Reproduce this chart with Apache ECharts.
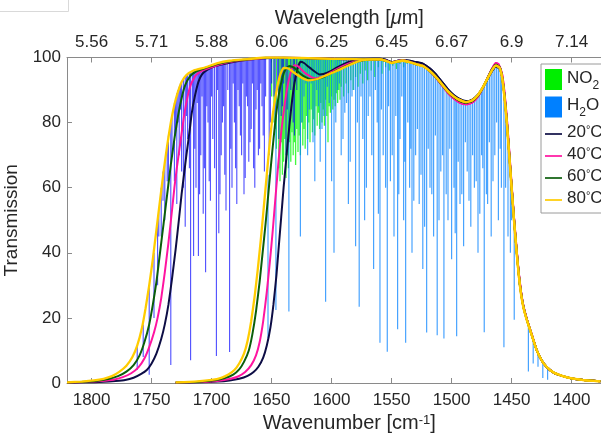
<!DOCTYPE html>
<html><head><meta charset="utf-8">
<script src="https://cdn.jsdelivr.net/npm/echarts/dist/echarts.min.js"></script>
<style>html,body{margin:0;padding:0;background:#fff}#c{width:601px;height:433px}</style>
</head><body><div id="c"></div>
<script>
// ---- tick labels ----
const wnTicks = [1800,1750,1700,1650,1600,1550,1500,1450,1400];
const wlLabels = ['5.56','5.71','5.88','6.06','6.25','6.45','6.67','6.9','7.14'];

// ---- shared high-wavenumber tails per temperature [wavenumber, transmission] ----
const tail20 = [[1560,99.6],[1555,99.3],[1550,98.6],[1545,99],[1541,99.2],[1535,99],[1530,98.6],[1524,98.1],[1518,96.6],[1513,94.8],[1508,92.5],[1503,90.2],[1498,88.4],[1493,87.2],[1488,86.6],[1483,87],[1478,88.6],[1474,90.8],[1470,93.4],[1466,96],[1463,97.2],[1460,96.6],[1458,94.2],[1456,88.5],[1454,80.5],[1452,70.5],[1450,60.5],[1448,50.5],[1446,41.5],[1444,33.5],[1442,27.5],[1440,23.3],[1437,19.2],[1433,14.6],[1429,10],[1425,7],[1421,5],[1415,3.2],[1408,2.2],[1400,1.4],[1390,0.9],[1376,0.5]];
const tail40 = [[1560,99.4],[1555,99.1],[1550,98.5],[1545,98.9],[1541,99.1],[1535,98.7],[1530,98.1],[1524,97.5],[1518,95.8],[1513,93.8],[1508,91.4],[1503,89.1],[1498,87.3],[1493,86.1],[1488,85.6],[1483,86.1],[1478,88],[1474,90.6],[1470,93.8],[1466,96.8],[1463,98.3],[1461,98],[1458,95],[1456,89.5],[1454,81.5],[1452,71.5],[1450,61],[1448,51],[1446,42],[1444,33.8],[1442,27.7],[1440,23.4],[1437,19.3],[1433,14.7],[1429,10.1],[1425,7],[1421,5],[1415,3.2],[1408,2.2],[1400,1.4],[1390,0.9],[1376,0.5]];
const tail60 = [[1560,99.4],[1555,99],[1550,98.4],[1545,98.8],[1541,99],[1535,98.6],[1530,98],[1524,97.4],[1518,95.8],[1513,93.9],[1508,91.6],[1503,89.4],[1498,87.8],[1493,86.6],[1488,86.1],[1483,86.6],[1478,88.3],[1474,90.7],[1470,93.7],[1466,96.5],[1463,97.8],[1460,97],[1458,94.3],[1456,88.5],[1454,80.5],[1452,70.5],[1450,60.3],[1448,50.3],[1446,41.3],[1444,33.2],[1442,27.2],[1440,23.1],[1437,19.1],[1433,14.5],[1429,10],[1425,7],[1421,5],[1415,3.2],[1408,2.2],[1400,1.4],[1390,0.9],[1376,0.5]];
const tail80 = [[1560,99.4],[1555,99],[1550,98.3],[1545,98.8],[1541,99],[1535,98.6],[1530,98],[1524,97.4],[1518,95.8],[1513,94],[1508,91.8],[1503,89.6],[1498,88],[1493,86.9],[1488,86.3],[1483,86.8],[1478,88.5],[1474,90.8],[1470,93.6],[1466,96.3],[1463,97.5],[1460,96.8],[1458,94],[1456,88],[1454,80],[1452,70],[1450,60],[1448,50],[1446,41],[1444,33],[1442,27],[1440,23],[1437,19],[1433,14.5],[1429,10],[1425,7],[1421,5],[1415,3.2],[1408,2.2],[1400,1.4],[1390,0.9],[1376,0.5]];

// ---- left filter rising edges ----
const riseL20 = [[1820.5,0.1],[1805,0.2],[1790,0.35],[1780,0.6],[1772,0.9],[1765,1.6],[1759,2.7],[1754,4],[1750,6],[1746,9],[1742,13.5],[1739,18],[1736,24],[1733,32],[1730,41],[1727,51],[1725,58],[1723,64],[1721,70],[1718.5,77],[1716.5,83],[1714,88],[1711,92.5],[1708,94.8],[1704,96.1],[1698,97.2],[1690,98],[1680,98.8],[1668,99.4],[1655,99.8],[1640,100],[1620,99.8],[1600,99.6],[1580,99.6],[1565,99.6]];
const riseL40 = [[1820.5,0.12],[1805,0.3],[1792,0.6],[1782,1],[1774,1.8],[1767,3],[1761,4.8],[1756,7.5],[1752,11],[1748,15.5],[1745,20],[1742,26],[1739,34],[1736,43],[1733,53],[1731,60],[1729,66],[1726,74],[1723,82],[1720,88],[1717,92],[1713,94.6],[1707,96.1],[1700,97],[1690,98.2],[1680,98.9],[1665,99.5],[1650,100],[1630,99.9],[1610,99.7],[1590,99.5],[1565,99.4]];
const riseL60 = [[1820.5,0.15],[1805,0.35],[1795,0.7],[1786,1.2],[1778,2.1],[1771,3.5],[1765,5.5],[1760,8.5],[1756,12.5],[1752,18],[1749,24],[1746,31],[1743,40],[1740,49],[1737,58],[1734,67],[1731,75],[1728,82],[1725,87.5],[1722,91.5],[1718,94.2],[1713,95.7],[1705,96.8],[1695,98],[1685,98.8],[1670,99.4],[1655,100],[1635,99.9],[1615,99.7],[1590,99.5],[1565,99.4]];
const riseL80 = [[1820.5,0.2],[1808,0.45],[1798,0.8],[1790,1.3],[1783,2.1],[1777,3.4],[1771,5.3],[1766,8],[1762,11.5],[1758,17],[1755,23],[1752,30],[1749,38],[1746,47],[1743,56],[1740,65],[1737,73],[1734,80],[1731,85.5],[1728,89.5],[1725,92.5],[1721,94.6],[1715,96],[1705,97],[1695,98.3],[1685,99],[1670,99.5],[1655,100],[1640,100],[1620,99.8],[1600,99.6],[1580,99.5],[1565,99.4]];

// ---- right filter rising edges ----
const riseR20 = [[1730,0.05],[1710,0.2],[1695,0.45],[1685,0.8],[1677,1.3],[1670,2.2],[1665,3.4],[1661,5],[1657,7.8],[1654,11.5],[1651,17],[1648.5,24],[1646,33],[1644,42],[1642,51],[1640,60],[1638,68],[1636,76],[1633.5,85],[1631,92],[1628,97],[1626,98.7],[1623,98.3],[1618,96.8],[1610,94.8],[1603,95.4],[1595,97],[1586,98.6],[1578,99.3],[1565,99.6]];
const riseR40 = [[1730,0.1],[1710,0.3],[1695,0.65],[1685,1.2],[1678,2],[1672,3.4],[1667,5.5],[1663,8.5],[1660,12.5],[1657,19],[1654,28],[1651.5,37],[1649,47],[1647,56],[1644.5,67],[1642,77],[1639,86],[1636,92.5],[1633,96.6],[1631,97.6],[1628,97.3],[1622,95.2],[1614,93.6],[1606,94.3],[1598,96],[1588,97.8],[1578,99],[1565,99.4]];
const riseR60 = [[1730,0.15],[1710,0.4],[1697,0.85],[1689,1.5],[1682,2.6],[1677,4.2],[1673,6.5],[1669,10],[1666,15],[1663,22],[1660,31],[1657.5,40],[1655,49],[1652.5,59],[1650,69],[1647,80],[1644,88.5],[1641,93.8],[1638,96.6],[1635,97.4],[1631,96.8],[1626,95],[1621,93.8],[1616,93.2],[1608,93.8],[1600,95.3],[1590,97],[1580,98.6],[1570,99.3],[1565,99.4]];
const riseR80 = [[1730,0.2],[1712,0.5],[1700,0.95],[1692,1.6],[1686,2.6],[1681,4],[1677,6],[1673,9],[1670,13],[1667,19],[1664,27],[1661.5,35],[1659,44],[1656.5,54],[1654,64],[1651.5,74],[1649,82.5],[1646,89.5],[1643,94.5],[1640,96.8],[1636,96.6],[1630,95],[1625,93.8],[1619.5,93],[1612,93.4],[1604,94.6],[1595,96],[1587,97.4],[1580,98.5],[1574,99.2],[1565,99.4]];

// ---- absorption lines [wavenumber, top, bottom] ----
const h2oLeftLines = [[1762,11.5,4],[1757,18,8],[1752,30,2.5],[1748,40,20],[1745,50,30],[1744,53,45],[1742,60,45],[1740.5,65,56],[1739,68,50],[1737,73,62],[1736,76,60],[1734,80,5.5],[1733,82,70],[1731,86,62],[1730,87.5,78],[1729,89,55],[1728,90,80],[1727,91,70],[1726,92,84],[1725,92.5,65],[1723.5,93.5,60],[1722,94,48],[1721,94.5,82],[1720,95,75],[1718.5,95,66],[1717.5,95.5,7],[1716,95.5,84],[1715,96,39],[1714,96,72],[1713,96,60],[1712,96.2,86],[1711,96.5,39],[1710,96.5,58],[1709,96.5,70],[1708,96.8,88],[1707,97,52],[1706,97,66],[1705,97,34],[1704,97,85],[1703,97,80],[1702,97.2,62],[1701,97.5,56],[1700,97.5,88],[1699,97.5,75],[1697.5,97.8,66],[1696,98,8.3],[1695,98,90],[1694,98,46],[1693,98,58],[1692,98,70],[1691,98.2,80],[1690,98.5,85],[1689,98.5,64],[1688,98.5,53],[1686.5,98.7,90],[1685,99,9.5],[1684,99,72],[1683,99,60],[1682,99,92],[1681,99,80],[1680,99,66],[1679,99,55],[1678,99.2,90],[1677,99,85],[1676,99.3,76],[1675,99.5,70],[1674,99.5,92],[1673,99.5,58],[1672,99.5,63],[1671,99.5,88],[1670,99.5,85],[1669,99.5,68],[1668,99.5,74],[1667,99.5,78],[1666,99.5,92],[1665,99.5,66],[1664,99.5,60],[1663,99.5,84],[1662,99.5,90],[1661,99.7,70],[1660,100,72],[1659,100,92],[1658,100,85],[1657,100,76],[1656,100,65],[1655,100,88],[1652,100,70],[1651,100,80],[1650,100,92],[1648,100,88],[1647,100,78],[1645,100,90],[1644,100,75],[1642,100,82],[1641,100,85],[1640,100,92],[1638,100,70],[1637,100,84],[1634,100,90],[1632,100,80],[1631,100,76],[1629,100,90]];
const h2oRightLines = [[1653,64,13.8],[1646.4,90,22.4],[1635.6,97,22],[1626,99.5,45],[1624.5,99.5,80],[1623,99.5,88],[1621.5,99.5,92],[1620,99.5,70],[1618.5,99.5,84],[1617,99.5,92],[1615.5,99.5,74],[1614,99.5,62],[1612.5,99.5,90],[1611,99.5,85],[1609.5,99.5,68],[1608,99.5,78],[1606.5,99.5,82],[1605,99.5,25],[1603.5,99.5,91],[1602,99.5,86],[1600,99.5,62],[1598,99.5,40],[1596.5,99.5,80],[1595,99.5,90],[1593.5,99.5,92],[1592,99.5,70],[1590.5,99.5,75],[1589,99.5,83],[1587.5,99.5,86],[1586,99.5,55],[1584.5,99.5,68],[1583,99.5,88],[1581.5,99.5,90],[1580,99.5,42],[1578.5,99.5,80],[1577,99.5,23.4],[1575.5,99.5,88],[1574,99.5,75],[1572.5,99.5,50],[1571,99.5,60],[1569.5,99.5,82],[1568,99.5,88],[1566.5,99.5,70],[1565,99.5,35],[1563.5,99.5,90],[1562,99.4,80],[1561,99.4,52],[1559.7,99.3,12.4],[1558.5,99.2,84],[1557,99,70],[1555,99,60],[1553.6,98.8,9.6],[1552.5,98.6,85],[1551,98.3,62],[1549.5,98.4,70],[1548,98.5,45],[1546.5,98.7,82],[1545,98.8,16.5],[1544,98.9,58],[1543,99,75],[1541.5,99,88],[1540,98.8,50],[1539,98.8,68],[1538.3,98.6,12.4],[1536.5,98.6,80],[1535,98.5,60],[1534,98.4,72],[1533,98.3,40],[1531.5,98.2,56],[1530,98,70],[1528.5,97.9,78],[1527,97.8,55],[1525.5,97.6,64],[1524,97.6,35],[1522.5,97.3,48],[1520.8,97,15.5],[1519.5,96.5,72],[1518,96,60],[1516.5,95.5,58],[1515,95,45],[1513.5,94.2,76],[1512,93.5,14.7],[1510.5,93,50],[1509,92.4,65],[1507.5,91.8,70],[1506.4,91.3,13.7],[1504.5,90.5,58],[1503,90,50],[1501.5,89.5,72],[1500,89,38],[1498,88.3,60],[1497,88,46],[1495.8,87.8,14.4],[1494.5,87.4,68],[1493,87,55],[1491.5,86.8,58],[1490,86.6,42],[1488.5,86.4,74],[1487,86.4,65],[1485.5,86.6,56],[1484,86.8,48],[1482.5,87,70],[1481,87.5,60],[1479.5,88,62],[1478,88.5,40],[1476.5,89.5,52],[1475,90,70],[1474,90.8,66],[1472.8,91.5,15.6],[1471,92.8,58],[1470,93.5,55],[1468.5,94.6,74],[1467,95.8,45],[1465.5,96.5,62],[1464,97.5,70],[1462.5,97.6,80],[1461,97,50],[1459.5,96.3,72],[1458.5,95,60],[1456.4,90,11],[1455,86,60],[1453,76,45],[1451,66,40],[1450,60,50],[1447.8,50,19.4],[1444,33,30],[1436,19,3.5],[1432,14,6],[1428,9.5,5],[1424,6.5,1.5],[1420,4.5,1]];
const no2Lines = [[1650,100,88],[1648,100,80],[1646,100,72],[1644,100,66],[1643,100,62],[1642,100,74],[1641,99.8,64],[1640,99.8,68],[1639,99.8,75],[1638,99.8,63],[1637,99.8,70],[1636,99.8,66],[1635,99.8,74],[1634,99.8,68],[1633,99.8,77],[1632,99.7,70],[1631,99.7,74],[1630,99.7,67],[1629,99.7,78],[1628,99.7,71],[1627,99.7,76],[1626,99.6,70],[1625,99.6,80],[1624,99.6,73],[1623,99.6,78],[1622,99.6,72],[1621,99.6,82],[1620,99.6,75],[1619,99.6,80],[1618,99.5,74],[1617,99.5,84],[1616,99.5,77],[1615,99.5,81],[1614,99.5,76],[1613,99.5,85],[1612,99.5,79],[1611,99.5,83],[1610,99.5,78],[1609,99.5,86],[1608,99.5,80],[1607,99.5,84],[1606,99.5,79],[1605,99.5,87],[1604,99.5,82],[1603,99.5,74],[1602,99.5,85],[1601,99.5,83],[1600,99.5,88],[1599,99.5,84],[1598,99.5,87],[1597,99.5,85],[1596,99.5,89],[1595,99.5,86],[1594,99.5,90],[1593,99.5,87],[1592,99.5,91],[1590,99.5,88],[1588,99.5,92],[1586,99.5,89],[1584,99.5,93],[1582,99.5,90],[1580,99.5,94],[1578,99.5,91],[1576,99.5,95],[1574,99.5,92],[1572,99.5,96],[1570,99.5,93],[1567,99.5,96],[1564,99.5,94],[1561,99.4,97],[1558,99.2,95],[1555,99,97],[1552,98.5,96],[1549,98.5,97.5],[1546,98.8,96.5],[1543,99,98],[1540,98.8,97],[1537,98.6,98]];

// ---- styling ----
const tempColors = {'20C':'#0d0d45','40C':'#ff14a0','60C':'#0b5e0b','80C':'#ffcc00'};
const txt = '#262626', axisCol = '#8a8a8a';

function lineRender(color, width) {
  return function (params, api) {
    const a = api.coord([api.value(0), api.value(1)]);
    const b = api.coord([api.value(0), api.value(2)]);
    return {type:'line', shape:{x1:a[0], y1:a[1], x2:b[0], y2:b[1]}, style:{stroke:color, lineWidth:width}};
  };
}
function absSeries(name, data, color, legendColor, width) {
  return {type:'custom', name:name, data:data, clip:true, dimensions:['w','top','bot'],
    encode:{x:0, y:[1,2]}, itemStyle:{color:legendColor}, renderItem:lineRender(color, width), silent:true};
}
function curve(name, data, width) {
  return {type:'line', name:name, data:data, showSymbol:false, symbol:'none', smooth:0.15, clip:true,
    lineStyle:{color:tempColors[name], width:width}, itemStyle:{color:tempColors[name]}, silent:true};
}

const series = [
  absSeries('NO2', no2Lines, 'rgba(0,245,0,0.75)', '#00ee00', 1.3),
  absSeries('H2Odark', h2oLeftLines, 'rgba(0,0,255,0.7)', '#0000ff', 1.1),
  absSeries('H2O', h2oRightLines, 'rgba(0,128,255,0.72)', '#0080ff', 1.2),
  curve('20C', riseL20.concat(tail20), 2), curve('20C', riseR20.concat(tail20), 2),
  curve('40C', riseL40.concat(tail40), 2), curve('40C', riseR40.concat(tail40), 2),
  curve('60C', riseL60.concat(tail60), 2), curve('60C', riseR60.concat(tail60), 2),
  curve('80C', riseL80.concat(tail80), 2.3), curve('80C', riseR80.concat(tail80), 2.3)
];

const legendText = {
  'NO2':'{a|NO}{sub|2}', 'H2O':'{a|H}{sub|2}{a|O}',
  '20C':'{a|20}{sup|°}{a|C}', '40C':'{a|40}{sup|°}{a|C}', '60C':'{a|60}{sup|°}{a|C}', '80C':'{a|80}{sup|°}{a|C}'
};
const linePath = 'path://M0,0H20V2H0Z';

const baseX = {
  type:'value', inverse:true, min:1350, max:1820.5, interval:50,
  axisLine:{show:true, lineStyle:{color:axisCol, width:1}},
  axisTick:{show:true, inside:true, length:5, lineStyle:{color:axisCol}},
  splitLine:{show:false}, nameLocation:'middle'
};

const option = {
  animation:false,
  backgroundColor:'#ffffff',
  textStyle:{fontFamily:'Liberation Sans, Arial, sans-serif'},
  grid:{left:67, top:57.5, right:-30.6, bottom:50, containLabel:false, outerBoundsMode:'none'},
  xAxis:[
    Object.assign({}, baseX, {position:'bottom',
      axisLabel:{color:txt, fontSize:17, margin:9, showMaxLabel:false, showMinLabel:false,
        formatter:v => wnTicks.indexOf(v) >= 0 ? String(v) : ''},
      name:'{a|Wavenumber [cm}{sup|-1}{a|]}', nameGap:24,
      nameTextStyle:{color:txt, rich:{a:{fontSize:20, lineHeight:22, verticalAlign:'top', color:txt}, sup:{fontSize:13, lineHeight:13, verticalAlign:'top', color:txt}}}}),
    Object.assign({}, baseX, {position:'top',
      axisLabel:{color:txt, fontSize:17, margin:7, showMaxLabel:false, showMinLabel:false,
        formatter:v => { const i = wnTicks.indexOf(v); return i >= 0 ? wlLabels[i] : ''; }},
      name:'{a|Wavelength [}{mu|μ}{a|m]}', nameGap:29,
      nameTextStyle:{color:txt, rich:{a:{fontSize:20, color:txt}, mu:{fontSize:20, fontStyle:'italic', color:txt}}}})
  ],
  yAxis:{type:'value', min:0, max:100, interval:20,
    axisLine:{show:true, lineStyle:{color:axisCol}},
    axisTick:{show:true, inside:true, length:5, lineStyle:{color:axisCol}},
    splitLine:{show:false},
    axisLabel:{color:txt, fontSize:17, margin:6},
    name:'Transmission', nameLocation:'middle', nameGap:37, nameTextStyle:{color:txt, fontSize:19}},
  legend:{orient:'vertical', left:541, top:64, padding:[5,14,6,4], itemGap:5, itemWidth:17, itemHeight:21,
    backgroundColor:'#ffffff', borderColor:'#9a9a9a', borderWidth:1, borderRadius:0,
    selectedMode:false,
    data:[{name:'NO2', icon:'rect'}, {name:'H2O', icon:'rect'},
          {name:'20C', icon:linePath}, {name:'40C', icon:linePath}, {name:'60C', icon:linePath}, {name:'80C', icon:linePath}],
    formatter:n => legendText[n],
    textStyle:{color:txt, rich:{a:{fontSize:17, lineHeight:20, verticalAlign:'top', color:txt},
      sub:{fontSize:12, lineHeight:12, padding:[10,0,0,0], verticalAlign:'top', color:txt},
      sup:{fontSize:11, lineHeight:11, verticalAlign:'top', color:txt}}}},
  graphic:[{type:'polyline', shape:{points:[[0,11.5],[68.5,11.5],[68.5,0]]}, style:{stroke:'#d9d9d9', lineWidth:1, fill:null}, silent:true}],
  series:series
};

const chart = echarts.init(document.getElementById('c'), null, {renderer:'canvas'});
chart.setOption(option);
</script></body></html>
